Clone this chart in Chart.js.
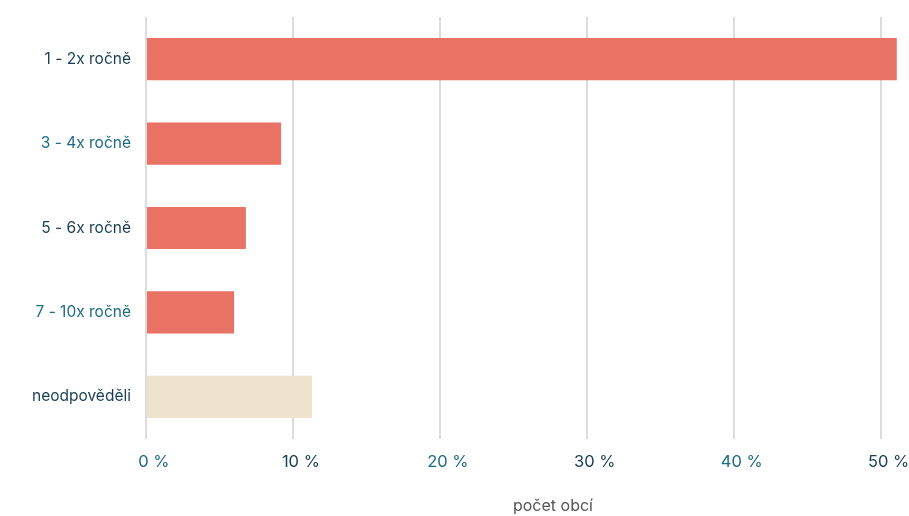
<!DOCTYPE html>
<html>
<head>
<meta charset="utf-8">
<script src="https://cdn.jsdelivr.net/npm/chart.js@4/dist/chart.umd.min.js"></script>
<style>
  html, body { margin: 0; padding: 0; background: #fff; overflow: hidden; }
  #wrap { width: 960px; height: 516px; }
</style>
</head>
<body>
<div id="wrap"><canvas id="freqChart"></canvas></div>
<script>
// Frequency categories and share of municipalities (%)
const categories = ['1 - 2x ročně', '3 - 4x ročně', '5 - 6x ročně', '7 - 10x ročně', 'neodpověděli'];
const shares = [51.1, 9.2, 6.8, 6.0, 11.3];
const barColors = ['#e87264', '#e87264', '#e87264', '#e87264', '#f0e3cd'];
const xTicks = [0, 10, 20, 30, 40, 50];

const darkText = '#173f54';
const tealText = '#1d6a86';

const ctx = document.getElementById('freqChart');
new Chart(ctx, {
    type: 'bar',
    data: {
        labels: categories,
        datasets: [{
            data: shares,
            backgroundColor: barColors,
            borderWidth: 0,
            categoryPercentage: 1,
            barPercentage: 0.5
        }]
    },
    options: {
        indexAxis: 'y',
        responsive: true,
        maintainAspectRatio: false,
        animation: false,
        layout: {
            padding: { left: 17, top: 17, right: 0, bottom: 0 }
        },
        plugins: {
            legend: { display: false },
            tooltip: { enabled: false }
        },
        scales: {
            x: {
                min: 0,
                max: 55.4,
                afterBuildTicks: function(axis) {
                    axis.ticks = xTicks.map(v => ({ value: v }));
                },
                grid: {
                    color: '#dcdcdc',
                    lineWidth: 2,
                    drawTicks: false
                },
                border: { display: false },
                ticks: {
                    padding: 13,
                    labelOffset: 8,
                    font: { family: 'Inter', size: 16.5 },
                    color: function(c) { return c.index % 2 === 0 ? tealText : darkText; },
                    callback: function(value) { return value + ' %'; }
                },
                title: {
                    display: true,
                    text: 'počet obcí',
                    color: '#555555',
                    font: { family: 'Inter', size: 16 },
                    padding: { top: 12, bottom: 0 }
                }
            },
            y: {
                grid: { display: false, drawTicks: false },
                border: { display: false },
                // no extra room above the first category label
                afterFit: function(axis) {
                    axis.paddingTop = 0;
                    axis.paddingBottom = 0;
                },
                ticks: {
                    padding: 15,
                    font: { family: 'Inter', size: 15.5 },
                    color: function(c) { return c.index % 2 === 0 ? darkText : tealText; }
                }
            }
        }
    }
});
</script>
</body>
</html>
